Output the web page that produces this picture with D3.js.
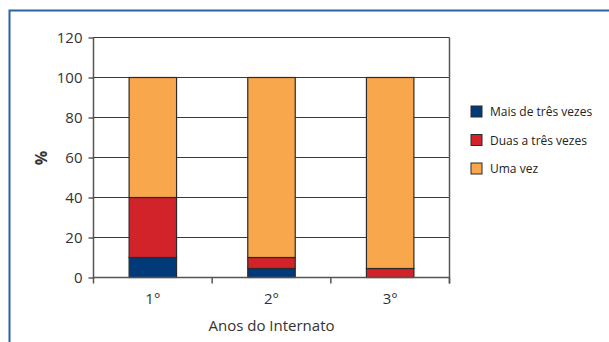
<!DOCTYPE html>
<html>
<head>
<meta charset="utf-8">
<script src="https://cdn.jsdelivr.net/npm/d3@7"></script>
<style>
  body { margin:0; background:#fff; }
  svg { display:block; font-family:"Open Sans","DejaVu Sans",sans-serif; }
</style>
</head>
<body>
<svg id="chart" width="609" height="342"></svg>
<script>
// data
var categories = ["1°", "2°", "3°"];
var seriesNames = ["Mais de três vezes", "Duas a três vezes", "Uma vez"];
var maisDeTres = [10, 4.5, 0];
var duasATres = [30, 5.5, 4.5];
var umaVez = [60, 90, 95.5];
var yTicks = [0, 20, 40, 60, 80, 100, 120];
var colors = ["#003a78", "#d2232a", "#f9a74c"];

var svg = d3.select("#chart");

// blue frame
svg.append("path")
   .attr("d", "M9.5,342V10.5H609")
   .attr("fill", "none")
   .attr("stroke", "#2f62a3")
   .attr("stroke-width", 2);

// plot area (note: "top" is reserved on window, so use own names)
var plotLeft = 93.5, plotRight = 449.5, plotTop = 37.5, plotBottom = 277.5;

var x = d3.scaleBand().domain(categories).range([plotLeft, plotRight])
          .paddingInner(0.6).paddingOuter(0.3);
var y = d3.scaleLinear().domain([0, 120]).range([plotBottom, plotTop]);

// stacked data
var rows = categories.map(function(c, i){
    return {cat:c, mais:maisDeTres[i], duas:duasATres[i], uma:umaVez[i]};
});
var stack = d3.stack().keys(["mais","duas","uma"])(rows);

// gridlines
svg.append("g").selectAll("line")
   .data(yTicks.filter(function(d){ return d > 0; }))
   .enter().append("line")
   .attr("x1", plotLeft).attr("x2", plotRight)
   .attr("y1", function(d){ return y(d); })
   .attr("y2", function(d){ return y(d); })
   .attr("stroke", "#3a3a3a").attr("stroke-width", 1.2);

// right border
svg.append("line")
   .attr("x1", plotRight).attr("x2", plotRight)
   .attr("y1", plotTop).attr("y2", plotBottom + 6)
   .attr("stroke", "#555").attr("stroke-width", 1.5);

// bars
svg.append("g").selectAll("g")
   .data(stack).enter().append("g")
   .attr("fill", function(d, i){ return colors[i]; })
   .selectAll("rect")
   .data(function(d){ return d; })
   .enter().append("rect")
   .attr("x", function(d){ return x(d.data.cat); })
   .attr("width", x.bandwidth())
   .attr("y", function(d){ return y(d[1]); })
   .attr("height", function(d){ return y(d[0]) - y(d[1]); })
   .attr("stroke", function(d){ return d[1] - d[0] > 0 ? "#2a2a2a" : "none"; })
   .attr("stroke-width", 1.2);

// y axis
var yAxis = svg.append("g")
   .attr("transform", "translate(" + plotLeft + ",0)")
   .call(d3.axisLeft(y).tickValues(yTicks).tickSize(5).tickPadding(6));
yAxis.select(".domain").attr("d", "M0," + plotTop + "V" + (plotBottom + 6))
   .attr("stroke", "#555").attr("stroke-width", 1.5);
yAxis.selectAll(".tick line").attr("stroke", "#3a3a3a").attr("stroke-width", 1.2);
yAxis.selectAll("text").attr("font-size", 15).attr("fill", "#333")
   .attr("font-family", "Open Sans, DejaVu Sans, sans-serif");

// x axis (ticks at band boundaries)
var bounds = categories.map(function(c){ return x(c) + x.bandwidth()/2 + x.step()/2; });
svg.append("line")
   .attr("x1", plotLeft).attr("x2", plotRight)
   .attr("y1", plotBottom).attr("y2", plotBottom)
   .attr("stroke", "#555").attr("stroke-width", 1.5);
svg.append("g").selectAll("line").data(bounds).enter().append("line")
   .attr("x1", function(d){ return d; }).attr("x2", function(d){ return d; })
   .attr("y1", plotBottom).attr("y2", plotBottom + 6)
   .attr("stroke", "#555").attr("stroke-width", 1.5);
svg.append("g").selectAll("text").data(categories).enter().append("text")
   .attr("x", function(d){ return x(d) + x.bandwidth()/2; })
   .attr("y", 304)
   .attr("text-anchor", "middle")
   .attr("font-size", 15).attr("fill", "#333")
   .text(function(d){ return d; });

// axis titles
svg.append("text")
   .attr("x", (plotLeft + plotRight)/2).attr("y", 331)
   .attr("text-anchor", "middle")
   .attr("font-size", 15).attr("fill", "#333")
   .text("Anos do Internato");
svg.append("text")
   .attr("transform", "translate(47,158) rotate(-90)")
   .attr("text-anchor", "middle")
   .attr("font-size", 16).attr("font-weight", "bold").attr("fill", "#333")
   .text("%");

// legend
var legend = svg.append("g").selectAll("g")
   .data(seriesNames).enter().append("g")
   .attr("transform", function(d, i){ return "translate(471," + (106 + i*28.5) + ")"; });
legend.append("rect")
   .attr("width", 11).attr("height", 11)
   .attr("fill", function(d, i){ return colors[i]; })
   .attr("stroke", "#2a2a2a").attr("stroke-width", 1);
legend.append("text")
   .attr("x", 19).attr("y", 10)
   .attr("font-size", 12).attr("fill", "#222")
   .text(function(d){ return d; });
</script>
</body>
</html>
